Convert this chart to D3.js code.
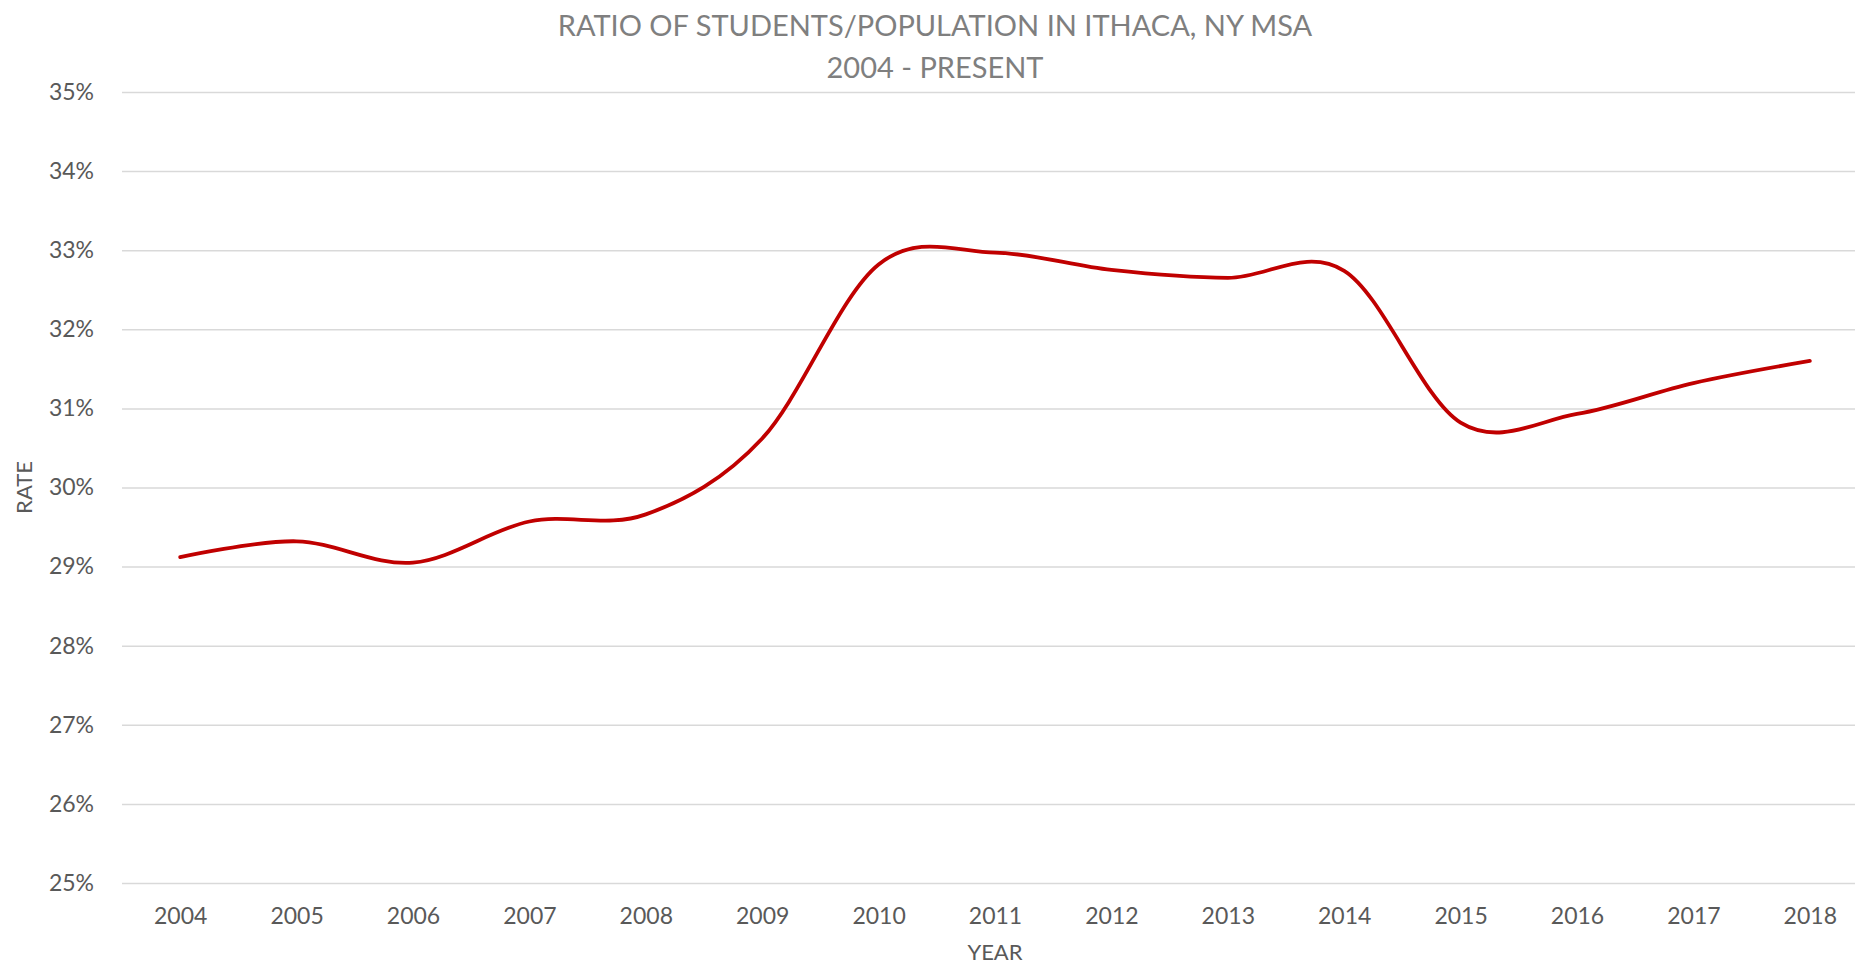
<!DOCTYPE html>
<html>
<head>
<meta charset="utf-8">
<script src="https://cdn.jsdelivr.net/npm/d3@7"></script>
<style>
  html, body { margin: 0; padding: 0; background: #fff; overflow: hidden; }
  svg { display: block; font-family: Lato, "Open Sans", sans-serif; }
</style>
</head>
<body>
<script>
// data
const years = ["2004","2005","2006","2007","2008","2009","2010","2011","2012","2013","2014","2015","2016","2017","2018"];
const rates = [29.12, 29.32, 29.05, 29.57, 29.66, 30.62, 32.82, 32.97, 32.75, 32.65, 32.74, 30.82, 30.93, 31.32, 31.60];
const yTicks = [25, 26, 27, 28, 29, 30, 31, 32, 33, 34, 35];
const titleLines = ["RATIO OF STUDENTS/POPULATION IN ITHACA, NY MSA", "2004 - PRESENT"];

const w = 1855, h = 964;
const pLeft = 122, pRight = 1868, pTop = 92, pBottom = 883;
const font = "Lato, 'Open Sans', sans-serif";

const svg = d3.select("body").append("svg").attr("width", w).attr("height", h);
svg.append("rect").attr("width", w).attr("height", h).attr("fill", "#fff");

const x = d3.scalePoint().domain(years).range([pLeft, pRight]).padding(0.5);
const y = d3.scaleLinear().domain([25, 35]).range([pBottom, pTop]);

// y axis + gridlines
const gy = svg.append("g").attr("transform", `translate(${pLeft},0)`)
  .call(d3.axisLeft(y).tickValues(yTicks).tickSize(-(pRight - pLeft)).tickPadding(28).tickFormat(d => d + "%"))
  .attr("font-family", font);
gy.select(".domain").remove();
gy.selectAll(".tick line").attr("stroke", "#d9d9d9").attr("stroke-width", 1.5);
gy.selectAll(".tick text").attr("fill", "#595959").style("font-size", "23px");

// x axis
const gx = svg.append("g").attr("transform", `translate(0,${pBottom})`)
  .call(d3.axisBottom(x).tickSize(0).tickPadding(25))
  .attr("font-family", font);
gx.select(".domain").remove();
gx.selectAll(".tick text").attr("fill", "#595959").style("font-size", "23px");

// line
const line = d3.line().x((d, i) => x(years[i])).y(d => y(d)).curve(d3.curveCardinal.tension(0));
svg.append("path").datum(rates).attr("d", line)
  .attr("fill", "none").attr("stroke", "#c00000").attr("stroke-width", 3.8).attr("stroke-linecap", "round");

// titles
svg.selectAll(".title").data(titleLines).enter().append("text")
  .attr("class", "title").attr("x", 935).attr("y", (d, i) => 36 + i * 42)
  .attr("text-anchor", "middle").attr("fill", "#7f7f7f").style("font-size", "29px").text(d => d);

svg.append("text").attr("x", (pLeft + pRight) / 2).attr("y", 960).attr("text-anchor", "middle")
  .attr("fill", "#595959").style("font-size", "22px").text("YEAR");

svg.append("text").attr("transform", `translate(32,${(pTop + pBottom) / 2}) rotate(-90)`)
  .attr("text-anchor", "middle").attr("fill", "#595959").style("font-size", "22px").text("RATE");
</script>
</body>
</html>
